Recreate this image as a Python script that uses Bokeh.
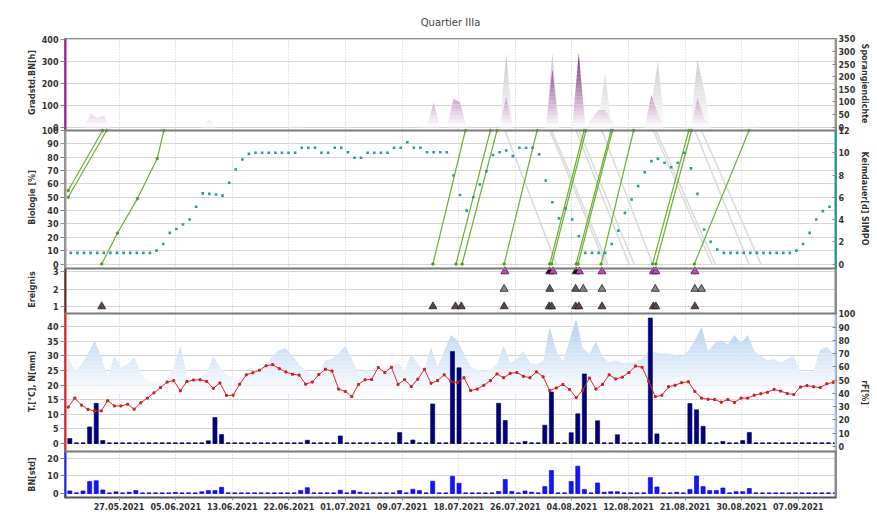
import numpy as np
import pandas as pd
from math import pi
from bokeh.plotting import figure
from bokeh.layouts import row
from bokeh.models import Range1d, LinearAxis, FixedTicker, Span
from bokeh.core.properties import value
from bokeh.embed import file_html
from bokeh.resources import INLINE

# ------------------------------------------------------------------ data
title_text = "Quartier IIIa"
start_day = "2021-05-20"
n_days = 117

# daily air temperature [°C]
temperature = [
    12.4, 15.5, 13.1, 11.6, 11.1, 11.1, 14.6, 12.8, 12.8, 13.4,
    11.7, 13.9, 15.5, 17.3, 19.1, 21.0, 21.5, 18.0, 21.2, 21.7,
    21.8, 21.2, 18.9, 20.7, 16.4, 16.5, 20.3, 23.5, 24.2, 25.1,
    26.6, 27.0, 25.6, 24.5, 23.7, 23.4, 20.3, 21.0, 23.6, 25.4,
    24.8, 18.6, 17.8, 16.0, 20.2, 21.8, 21.9, 26.0, 24.3, 26.1,
    20.2, 21.8, 19.5, 22.0, 25.4, 20.6, 21.5, 23.5, 21.3, 20.9,
    22.5, 18.1, 18.6, 19.9, 21.5, 23.8, 22.5, 24.0, 24.3, 23.0,
    22.5, 24.5, 22.8, 18.1, 19.0, 20.2, 18.5, 15.7, 18.2, 22.4,
    18.6, 20.2, 23.5, 22.1, 22.7, 24.3, 26.5, 26.1, 21.3, 16.0,
    16.5, 19.4, 19.9, 20.8, 21.1, 17.8, 15.5, 15.1, 15.0, 14.1,
    15.0, 14.0, 15.5, 15.5, 16.5, 17.0, 17.5, 18.5, 17.9, 17.1,
    16.7, 19.3, 19.8, 19.4, 19.1, 20.4, 20.9,
]

# daily relative humidity [%]
humidity = [
    67, 57, 62, 70, 80, 68, 52, 69, 59, 62,
    67, 55, 50, 49, 48, 52, 60, 76, 53, 51,
    52, 56, 68, 60, 54, 52, 52, 53, 55, 57,
    62, 68, 73, 74, 68, 62, 57, 54, 56, 65,
    66, 70, 76, 66, 55, 58, 56, 55, 58, 60,
    63, 57, 70, 62, 58, 75, 60, 72, 84, 80,
    70, 60, 58, 57, 58, 62, 76, 63, 66, 72,
    63, 62, 64, 90, 72, 64, 80, 96, 74, 70,
    79, 68, 63, 65, 63, 63, 64, 66, 72, 71,
    70, 70, 69, 68, 72, 80, 90, 72, 78, 80,
    77, 84, 78, 84, 72, 68, 65, 66, 63, 66,
    68, 56, 56, 57, 73, 75, 70,
]

# daily precipitation [mm]
precipitation = [
    1.6, 0, 0, 5.6, 13.7, 0.9, 0, 0, 0, 0,
    0, 0, 0, 0, 0, 0, 0, 0, 0, 0,
    0, 0.8, 8.8, 3.0, 0, 0, 0, 0, 0, 0,
    0, 0, 0, 0, 0, 0, 1.0, 0, 0, 0,
    0, 2.5, 0, 0, 0, 0, 0, 0, 0, 0,
    3.7, 0, 1.1, 0, 0, 13.5, 0, 0, 31.5, 25.9,
    0, 0, 0, 0, 0, 13.7, 7.8, 0, 0, 0.6,
    0, 0, 6.2, 17.6, 0, 0, 3.6, 10.1, 23.8, 0,
    7.7, 0, 0, 2.9, 0, 0, 0, 0, 43.0, 3.2,
    0, 0, 0, 0, 13.6, 11.5, 5.8, 0, 0, 0.6,
    0, 0, 0.9, 3.7, 0, 0, 0, 0, 0, 0,
    0, 0, 0, 0, 0, 0, 0,
]

# daily leaf wetness BN [h]
leaf_wetness = [
    1.3, 0, 1.3, 6.7, 7.2, 1.9, 0, 0.8, 0, 0.5,
    1.5, 0, 0, 0, 0, 0, 0.4, 0, 0, 0,
    0.8, 1.6, 1.5, 3.4, 0, 0, 0, 0, 0, 0,
    0, 0, 0, 0, 0, 1.6, 3.2, 0, 0, 0,
    0, 1.7, 0, 1.5, 0.6, 0, 0, 0, 0, 0,
    1.5, 0, 2.3, 1.5, 0, 6.9, 0, 0, 9.8, 5.8,
    0, 0, 0, 0, 0, 1.0, 7.9, 1.0, 0, 1.3,
    0.6, 0, 3.8, 13.1, 0, 0, 6.7, 15.6, 2.2, 0,
    5.9, 0.5, 0.9, 0.9, 0, 0, 0, 0, 9.0, 3.6,
    0, 0, 0.5, 0, 2.2, 9.9, 3.8, 1.6, 1.6, 3.0,
    0, 0.9, 0.9, 2.7, 0, 0, 0, 0, 0, 0,
    0, 0, 0, 0, 0, 0, 0,
]

# Keimdauer [d] (SIMPO)
keimdauer = [
    1.0, 1.0, 1.0, 1.0, 1.0, 1.0, 1.0, 1.0, 1.0, 1.0,
    1.0, 1.0, 1.0, 1.2, 1.8, 2.8, 3.15, 3.55, 4.0, 5.15,
    6.35, 6.3, 6.25, 6.15, 7.3, 8.5, 9.4, 9.9, 10.0, 10.0,
    10.0, 10.0, 10.0, 10.0, 10.0, 10.45, 10.45, 10.45, 10.0, 10.0,
    10.45, 10.45, 10.05, 9.55, 9.55, 10.0, 10.0, 10.0, 10.0, 10.45,
    10.45, 10.95, 10.45, 10.45, 10.05, 10.05, 10.05, 10.05, 7.95, 6.2,
    4.8, 6.0, 7.15, 8.35, 9.8, 10.05, 10.2, 9.7, 10.45, 10.45,
    10.45, 9.85, 7.5, 5.55, 4.1, 5.0, 4.0, 2.5, 1.0, 1.0,
    1.0, 1.0, 1.8, 3.0, 4.6, 5.8, 7.0, 8.25, 9.25, 9.45,
    9.1, 8.7, 9.1, 10.0, 8.6, 6.3, 3.1, 2.0, 1.3, 1.0,
    1.0, 1.0, 1.0, 1.0, 1.0, 1.0, 1.0, 1.0, 1.0, 1.0,
    1.2, 1.8, 2.8, 4.0, 4.75, 5.15, float("nan"),
]

# Gradstunden BN [h]
gradstd_bn = [
    0, 0, 0, 62, 42, 55, 0, 0, 0, 0,
    0, 0, 0, 0, 0, 0, 0, 0, 0, 0,
    0, 38, 0, 0, 0, 0, 0, 0, 0, 0,
    0, 0, 0, 0, 10, 0, 0, 0, 0, 0,
    0, 0, 0, 0, 0, 0, 0, 0, 0, 0,
    0, 0, 0, 0, 0, 113, 0, 0, 129, 114,
    0, 0, 0, 0, 0, 0, 140, 0, 0, 0,
    0, 0, 0, 264, 0, 0, 0, 337, 0, 40,
    78, 78, 30, 0, 0, 0, 0, 0, 148, 60,
    0, 0, 0, 0, 0, 132, 40, 0, 0, 0,
    0, 0, 0, 0, 0, 0, 0, 0, 0, 0,
    0, 0, 0, 0, 0, 0, 0,
]

# Sporangiendichte
sporangien = [
    0, 0, 0, 0, 0, 0, 0, 0, 0, 0,
    0, 0, 0, 0, 0, 0, 0, 0, 0, 0,
    0, 0, 0, 0, 0, 0, 0, 0, 0, 0,
    0, 0, 0, 0, 0, 0, 0, 0, 0, 0,
    0, 0, 0, 0, 0, 0, 0, 0, 0, 0,
    0, 0, 0, 0, 10, 0, 0, 0, 0, 0,
    0, 0, 0, 0, 0, 0, 292, 0, 0, 0,
    0, 0, 0, 292, 0, 0, 0, 220, 0, 0,
    30, 209, 0, 0, 0, 0, 0, 0, 90, 260,
    0, 0, 0, 0, 30, 266, 150, 0, 0, 0,
    0, 0, 0, 25, 0, 0, 0, 0, 0, 0,
    0, 0, 0, 0, 0, 0, 0,
]

# Biologie [%] progress lines (time, %)
bio_progress = [
    [("2021-05-20 00:00", 55), ("2021-05-25 05:00", 100)],
    [("2021-05-20 00:00", 50), ("2021-05-25 20:00", 100)],
    [("2021-05-25 02:00", 0), ("2021-05-27 11:00", 23), ("2021-05-30 12:00", 49),
     ("2021-06-02 12:00", 79), ("2021-06-03 12:00", 100)],
    [("2021-07-14 07:00", 0), ("2021-07-19 05:00", 100)],
    [("2021-07-17 19:00", 0), ("2021-07-23 00:00", 100)],
    [("2021-07-18 17:00", 0), ("2021-07-24 00:00", 100)],
    [("2021-07-25 02:00", 0), ("2021-07-30 02:00", 100)],
    [("2021-08-01 00:00", 0), ("2021-08-06 05:00", 100)],
    [("2021-08-01 07:00", 0), ("2021-08-06 12:00", 100)],
    [("2021-08-05 00:00", 0), ("2021-08-10 07:00", 100)],
    [("2021-08-05 07:00", 0), ("2021-08-10 12:00", 100)],
    [("2021-08-08 19:00", 0), ("2021-08-13 17:00", 100)],
    [("2021-08-16 14:00", 0), ("2021-08-22 02:00", 100)],
    [("2021-08-17 02:00", 0), ("2021-08-22 12:00", 100)],
    [("2021-08-22 22:00", 0), ("2021-08-31 05:00", 100)],
]

# Biologie [%] decline lines (time, %)
bio_decline = [
    [("2021-07-25 05:00", 100), ("2021-08-02 00:00", 0)],
    [("2021-08-01 00:00", 100), ("2021-08-09 10:00", 0)],
    [("2021-08-01 07:00", 100), ("2021-08-09 19:00", 0)],
    [("2021-08-05 00:00", 100), ("2021-08-13 00:00", 0)],
    [("2021-08-05 10:00", 100), ("2021-08-13 19:00", 0)],
    [("2021-08-08 22:00", 100), ("2021-08-16 14:00", 0)],
    [("2021-08-16 17:00", 100), ("2021-08-25 14:00", 0)],
    [("2021-08-17 02:00", 100), ("2021-08-26 02:00", 0)],
    [("2021-08-23 00:00", 100), ("2021-08-31 05:00", 0)],
    [("2021-08-24 00:00", 100), ("2021-09-02 00:00", 0)],
]

# Ereignis (events)
event_time = [
    "2021-05-25 02:00", "2021-07-14 07:00", "2021-07-17 17:00", "2021-07-18 14:00",
    "2021-07-25 02:00", "2021-07-31 22:00", "2021-08-01 07:00", "2021-08-04 22:00",
    "2021-08-05 10:00", "2021-08-08 22:00", "2021-08-16 17:00", "2021-08-17 02:00",
    "2021-08-23 00:00",
    "2021-07-25 02:00", "2021-08-01 00:00", "2021-08-04 22:00", "2021-08-06 02:00",
    "2021-08-08 22:00", "2021-08-17 00:00", "2021-08-23 00:00", "2021-08-24 00:00",
    "2021-07-25 05:00", "2021-08-01 00:00", "2021-08-01 12:00", "2021-08-05 00:00",
    "2021-08-05 12:00", "2021-08-08 22:00", "2021-08-16 17:00", "2021-08-17 02:00",
    "2021-08-23 00:00",
]
event_level = [1] * 13 + [2] * 8 + [3] * 9
event_kind = (["E1"] * 13
              + ["E2", "E2b", "E2b", "E2", "E2", "E2", "E2", "E2"]
              + ["E3", "E3b", "E3", "E3b", "E3", "E3", "E3", "E3", "E3"])

tick_labels = ["27.05.2021", "05.06.2021", "13.06.2021", "22.06.2021", "01.07.2021",
               "09.07.2021", "18.07.2021", "26.07.2021", "04.08.2021", "12.08.2021",
               "21.08.2021", "30.08.2021", "07.09.2021"]

left_titles = ["Gradstd.BN[h]", "Biologie [%]", "Ereignis", "T.[°C], N[mm]", "BN[std]"]
right_titles = ["Sporangiendichte", "Keimdauer[d] SIMPO", "rF[%]"]

# ------------------------------------------------------------------ layout
DAY = 86400000.0
FONT = "DejaVu Sans"
H = 517
BT, BB = 38, 20          # top / bottom border -> frame 459 px
FRAME_H = H - BT - BB


def ts(s):
    return pd.Timestamp(s).value / 1e6


X = pd.date_range(start_day, periods=n_days, freq="D").asi8 / 1e6
x0, x1 = ts("2021-05-19 10:35"), ts("2021-09-13 11:15")

tick0 = ts("2021-05-27 17:17")
xticks = [int(round(tick0 + k * 8.58 * DAY)) for k in range(len(tick_labels))]

# value -> layout units (pixels above frame bottom) for each panel scale
maps = {
    "p1L": (370.3, 0.2193),
    "p1R": (370.3, 0.2526),
    "p2L": (233.5, 1.335),
    "p2R": (233.5, 11.125),
    "p3": (173.5, 17.5),
    "p4L": (54.3, 2.91),
    "p4R": (51.0, 1.327),
    "p5": (4.3, 1.733),
}
bands = [(367, 459), (229, 367), (184, 229), (46, 184), (0, 46)]

p = figure(width=820, height=H, x_range=Range1d(x0, x1), y_range=Range1d(0, FRAME_H),
           x_axis_type="datetime", output_backend="svg", toolbar_location=None,
           min_border_left=24, min_border_right=22, min_border_top=BT, min_border_bottom=BB)
p.extra_y_ranges = {k: Range1d(-a / b, (FRAME_H - a) / b) for k, (a, b) in maps.items()}
p.background_fill_color = "white"
p.border_fill_color = "white"
p.outline_line_color = "#8a8a8a"
p.outline_line_width = 1

p.title.text = title_text
p.title.align = "center"
p.title.offset = -9
p.title.standoff = 22
p.title.text_font = FONT
p.title.text_font_size = "10px"
p.title.text_font_style = "normal"
p.title.text_color = "#444444"


def tick_set(spec):
    pos, over = [], {}
    for name, vals in spec:
        a, b = maps[name]
        for v in vals:
            u = round(a + b * v, 2)
            pos.append(u)
            over[u] = str(v)
    return pos, over


left_pos, left_over = tick_set([("p1L", [0, 100, 200, 300, 400]),
                                ("p2L", list(range(0, 101, 10))),
                                ("p3", [1, 2, 3]),
                                ("p4L", list(range(0, 41, 5))),
                                ("p5", [0, 10, 20])])
right_pos, right_over = tick_set([("p1R", list(range(0, 351, 50))),
                                  ("p2R", list(range(0, 13, 2))),
                                  ("p4R", list(range(0, 101, 10)))])


def style_axis(ax):
    ax.major_label_text_font = FONT
    ax.major_label_text_font_size = "8px"
    ax.major_label_text_font_style = "bold"
    ax.major_label_text_color = "#333333"
    ax.minor_tick_line_color = None
    ax.major_tick_line_color = "#8a8a8a"


yl = p.yaxis[0]
yl.ticker = FixedTicker(ticks=left_pos)
yl.major_label_overrides = left_over
style_axis(yl)
yl.axis_line_color = None
yl.major_tick_out = 4
yl.major_tick_in = 0
yl.major_label_standoff = 2

yr = LinearAxis(ticker=FixedTicker(ticks=right_pos), major_label_overrides=right_over)
style_axis(yr)
yr.axis_line_color = None
yr.major_tick_out = 0
yr.major_tick_in = 4
yr.major_label_standoff = 2
p.add_layout(yr, "right")

xa = p.xaxis[0]
xa.ticker = FixedTicker(ticks=xticks)
xa.major_label_overrides = {t: lab for t, lab in zip(xticks, tick_labels)}
style_axis(xa)
xa.axis_line_color = "#555555"
xa.axis_line_width = 2
xa.major_tick_out = 3
xa.major_tick_in = 0
xa.major_label_standoff = 2

p.xgrid.ticker = FixedTicker(ticks=xticks)
p.xgrid.grid_line_color = "#cdcdcd"
p.xgrid.grid_line_dash = "1 2"
p.ygrid.ticker = FixedTicker(ticks=left_pos)
p.ygrid.grid_line_color = "#d6d6d6"


def mix(rgb, f):
    return "#%02x%02x%02x" % tuple(int(round(255 + (c - 255) * f)) for c in rgb)


def gradient_area(x, y, lo, hi, rgb, rng, n=20):
    x = np.asarray(x, float)
    y = np.asarray(y, float)
    levels = np.linspace(lo, hi, n + 1)
    xs, ys = [x[0]], [y[0]]
    for i in range(len(x) - 1):
        xa_, xb_, ya_, yb_ = x[i], x[i + 1], y[i], y[i + 1]
        if ya_ != yb_:
            cuts = sorted((lv - ya_) / (yb_ - ya_) for lv in levels
                          if min(ya_, yb_) < lv < max(ya_, yb_))
            for f in cuts:
                xs.append(xa_ + f * (xb_ - xa_))
                ys.append(ya_ + f * (yb_ - ya_))
        xs.append(xb_)
        ys.append(yb_)
    xs, ys = np.array(xs), np.array(ys)
    for k in range(n):
        p.varea(x=xs, y1=np.minimum(ys, levels[k]), y2=np.minimum(ys, levels[k + 1]),
                fill_color=mix(rgb, (k + 0.5) / n), y_range_name=rng)


# ---- panel 1: Sporangiendichte / Gradstd.BN
gradient_area(X + 0.4 * DAY, sporangien, 0, 350, (188, 188, 188), "p1R")
gradient_area(X + 0.4 * DAY, gradstd_bn, 0, 350, (120, 20, 120), "p1L")

# ---- panel 2: Biologie / Keimdauer
p.multi_line([[ts(t) for t, _ in ln] for ln in bio_decline],
             [[v for _, v in ln] for ln in bio_decline],
             line_color="#dcdcdc", line_width=1.6, y_range_name="p2L")
p.multi_line([[ts(t) for t, _ in ln] for ln in bio_progress],
             [[v for _, v in ln] for ln in bio_progress],
             line_color="#6cb02c", line_width=1.2, y_range_name="p2L")
p.scatter([ts(t) for ln in bio_progress for t, _ in ln],
          [v for ln in bio_progress for _, v in ln],
          marker="circle", size=2.5, color="#5a9a22", y_range_name="p2L")
p.scatter(X + 0.4 * DAY, keimdauer, marker="square", size=2.6, fill_color="#2a9a9a",
          line_color=None, y_range_name="p2R")

# ---- panel 3: Ereignis
kind_fill = {"E1": "#5e4545", "E2": "#858585", "E2b": "#5a5a5a", "E3": "#dd33dd", "E3b": "#111111"}
p.scatter([ts(t) for t in event_time], event_level, marker="triangle", size=8,
          fill_color=[kind_fill[k] for k in event_kind], line_color="#222222",
          line_width=0.8, y_range_name="p3")

# ---- panel 4: rF, N, T
gradient_area(X, humidity, 40, 100, (170, 202, 238), "p4R")
bx = X + 0.25 * DAY
p.segment(x0=bx - 0.31 * DAY, x1=bx + 0.31 * DAY, y0=0, y1=0, line_color="#2a2a88",
          line_width=1.5, y_range_name="p4L")
p.vbar(x=bx, width=0.62 * DAY, top=precipitation, bottom=0, fill_color="#000080",
       line_color="#00004a", line_width=0.6, y_range_name="p4L")
p.line(X, temperature, line_color="#dd2a2a", line_width=1, y_range_name="p4L")
p.scatter(X, temperature, marker="square", size=2, color="#cc2222", y_range_name="p4L")

# ---- panel 5: BN
p.segment(x0=bx - 0.31 * DAY, x1=bx + 0.31 * DAY, y0=0, y1=0, line_color="#4a4aff",
          line_width=1.5, y_range_name="p5")
p.vbar(x=bx, width=0.62 * DAY, top=leaf_wetness, bottom=0, fill_color="#1414ff",
       line_color="#0000cc", line_width=0.6, y_range_name="p5")

# ---- panel separators and coloured axis lines
for lo_, hi_ in bands[:-1]:
    p.add_layout(Span(location=lo_, dimension="width", line_color="#7a7a7a", line_width=2))

left_cols = ["#9b1f9b", "#9a9a9a", "#6b2a2a", "#ee2222", "#2222ff"]
p.segment(x0=[x0] * 5, x1=[x0] * 5, y0=[b[0] for b in bands], y1=[b[1] for b in bands],
          line_color=left_cols, line_width=4)
right_cols = ["#9a9a9a", "#1f9a9a", "#8a8a8a", "#a9c8ea", "#8a8a8a"]
p.segment(x0=[x1] * 5, x1=[x1] * 5, y0=[b[0] for b in bands], y1=[b[1] for b in bands],
          line_color=right_cols, line_width=4)


# ---- side strips carrying the axis titles
def title_strip(width, xpos, texts, ys, angle):
    s = figure(width=width, height=H, x_range=Range1d(0, width), y_range=Range1d(0, FRAME_H),
               x_axis_location=None, y_axis_location=None, output_backend="svg",
               toolbar_location=None, min_border_left=0, min_border_right=0,
               min_border_top=BT, min_border_bottom=BB)
    s.outline_line_color = None
    s.xgrid.grid_line_color = None
    s.ygrid.grid_line_color = None
    s.text(x=[xpos] * len(texts), y=ys, text=texts, angle=angle, text_align="center",
           text_baseline="middle", text_font=value(FONT), text_font_size=value("8px"),
           text_font_style="bold", text_color="#333333")
    return s


left_strip = title_strip(38, 31.7, left_titles, [415, 300, 208, 116, 23], pi / 2)
right_strip = title_strip(19, 6.0, right_titles, [414, 299, 105], -pi / 2)

layout = row(left_strip, p, right_strip)
open("out.html", "w").write(file_html(layout, INLINE))
